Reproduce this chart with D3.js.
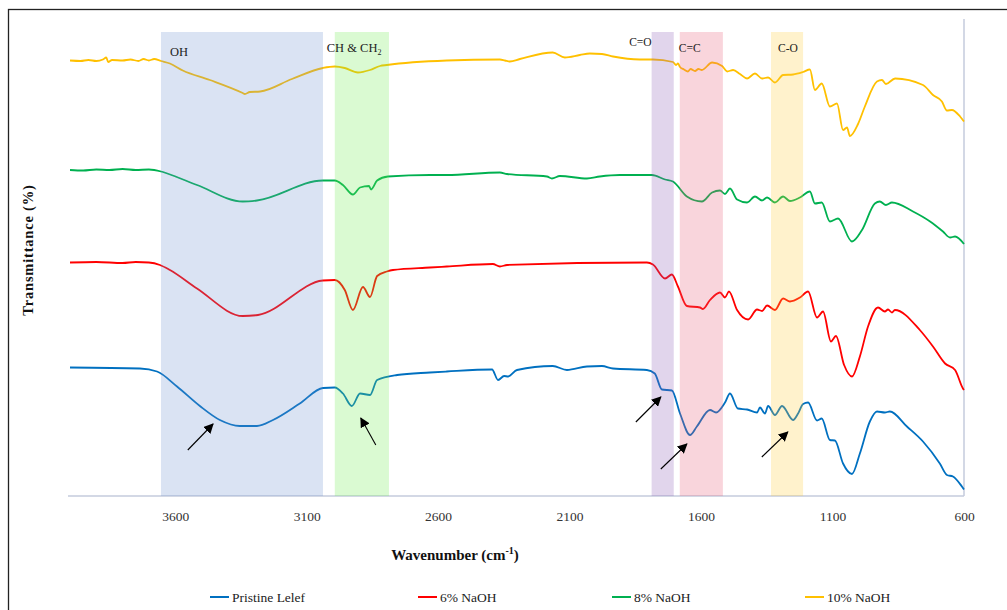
<!DOCTYPE html>
<html lang="en">
  <head>
  <meta charset="utf-8"/>
    <script type="text/javascript" src="https://cdnjs.cloudflare.com/ajax/libs/d3/7.8.5/d3.min.js"></script>
    <style>
      body { margin: 0; background: #fff; }
      text { font-family: "Liberation Serif", "Times New Roman", serif; }
    </style>
  </head>
  <body>
<svg class="fillmeup"></svg>
    <script type="text/javascript">

// spectra: [wavenumber (cm-1), transmittance as plotted (stacked)]
var pristine = [[4000,25.7],[3734,25.5],[3669,24.9],[3593,21.9],[3506,18.0],[3430,15.2],[3354,14.0],[3289,14.0],[3228,15.2],[3126,18.5],[3038,21.6],[2993,21.7],[2962,20.5],[2928,18.0],[2897,20.5],[2859,20.2],[2832,23.2],[2756,24.2],[2631,24.7],[2567,24.9],[2395,25.3],[2372,23.2],[2349,24.0],[2334,23.9],[2300,25.2],[2164,26.0],[2110,25.2],[2034,25.9],[1977,26.0],[1935,25.5],[1806,25.2],[1776,24.5],[1749,21.3],[1711,21.1],[1680,16.5],[1642,12.2],[1616,13.9],[1566,17.2],[1543,16.7],[1509,18.7],[1490,20.5],[1460,17.5],[1425,17.3],[1387,16.7],[1376,17.7],[1357,16.5],[1345,18.0],[1319,16.2],[1292,18.0],[1250,15.2],[1231,16.5],[1212,18.4],[1193,18.7],[1159,15.1],[1141,15.5],[1110,11.2],[1091,11.1],[1060,6.5],[1026,4.4],[996,8.5],[958,14.9],[931,16.9],[901,16.7],[882,16.9],[817,13.9],[756,10.9],[692,6.5],[665,4.2],[642,3.9],[608,1.9],[600,1.3]];
var naoh6 = [[4000,46.7],[3900,46.8],[3800,46.6],[3750,46.8],[3700,46.7],[3658,46.2],[3620,45.2],[3517,41.5],[3343,36.0],[3285,36.2],[3038,43.1],[2993,43.2],[2955,41.2],[2924,37.2],[2886,41.8],[2859,39.8],[2832,44.0],[2795,44.9],[2772,45.2],[2631,45.7],[2567,45.9],[2392,46.4],[2365,45.9],[2338,46.2],[1806,46.7],[1783,46.3],[1737,43.5],[1711,44.3],[1688,41.9],[1654,38.0],[1604,37.7],[1593,37.4],[1566,39.2],[1528,40.7],[1509,39.7],[1494,40.9],[1463,37.2],[1421,35.3],[1387,37.3],[1368,37.0],[1349,38.1],[1319,37.2],[1288,39.5],[1262,38.9],[1224,39.7],[1193,40.9],[1159,35.7],[1136,36.9],[1106,30.9],[1087,32.0],[1056,26.2],[1026,23.9],[996,27.9],[965,33.9],[927,37.7],[901,36.9],[889,37.3],[874,36.7],[863,37.2],[768,33.2],[718,29.9],[672,26.5],[634,25.2],[604,21.5],[600,21.2]];
var naoh8 = [[4000,65.2],[3950,65.1],[3900,65.3],[3850,65.2],[3800,65.4],[3750,65.2],[3700,65.3],[3654,64.9],[3630,64.5],[3517,62.2],[3343,58.9],[3289,59.1],[3038,63.1],[2993,63.1],[2962,62.2],[2924,60.3],[2897,61.7],[2863,62.0],[2855,61.3],[2832,63.1],[2791,63.9],[2631,64.2],[2567,64.2],[2365,64.7],[2338,64.4],[2186,63.9],[2167,63.5],[2137,64.0],[2034,63.5],[1985,63.9],[1909,64.2],[1787,64.2],[1737,63.3],[1707,62.9],[1654,59.9],[1597,58.9],[1558,60.7],[1528,61.1],[1509,60.4],[1490,61.5],[1463,59.3],[1425,58.7],[1395,59.9],[1368,59.1],[1349,59.7],[1319,58.7],[1288,59.9],[1262,59.0],[1224,59.7],[1186,60.9],[1167,58.5],[1141,58.7],[1110,54.9],[1079,55.5],[1026,50.9],[988,53.2],[939,58.5],[920,58.9],[897,58.2],[874,58.7],[794,56.9],[729,54.9],[680,52.9],[653,51.7],[634,51.9],[600,50.4]];
var naoh10 = [[4000,87.1],[3960,87.0],[3930,87.2],[3900,87.0],[3875,87.3],[3862,87.7],[3855,86.8],[3840,87.2],[3800,87.1],[3770,87.3],[3740,87.0],[3720,87.4],[3700,87.1],[3680,87.4],[3654,87.0],[3620,86.5],[3571,85.1],[3468,83.2],[3343,80.6],[3335,80.4],[3316,80.8],[3277,80.9],[3156,83.4],[3038,85.6],[2993,85.9],[2955,85.6],[2905,84.7],[2859,85.2],[2821,86.0],[2795,86.2],[2567,87.1],[2365,87.3],[2346,87.1],[2327,86.9],[2289,87.4],[2164,88.7],[2118,87.7],[2061,88.2],[2023,88.5],[1977,88.4],[1935,87.9],[1833,87.3],[1783,87.3],[1707,86.8],[1695,86.2],[1688,86.5],[1680,85.8],[1665,85.3],[1650,84.9],[1640,85.4],[1623,85.0],[1610,85.4],[1597,85.2],[1558,86.7],[1520,86.0],[1501,84.9],[1478,85.2],[1452,84.4],[1425,83.5],[1395,84.5],[1368,83.5],[1345,83.7],[1319,82.7],[1288,84.2],[1250,84.3],[1212,84.8],[1186,85.3],[1167,81.2],[1141,82.5],[1110,77.9],[1083,78.5],[1060,73.2],[1045,73.7],[1034,72.0],[1003,74.4],[977,77.9],[931,82.9],[912,83.2],[897,82.4],[862,83.5],[756,82.2],[718,80.2],[684,78.9],[665,77.1],[646,77.2],[615,75.9],[600,74.9]];

var seriesNames = ["Pristine Lelef", "6% NaOH", "8% NaOH", "10% NaOH"];
var seriesColors = ["#0070c0", "#ff0000", "#00b050", "#ffc000"];
var seriesData = [pristine, naoh6, naoh8, naoh10];

var xTicks = [3600, 3100, 2600, 2100, 1600, 1100, 600];

// functional group regions [from, to] in cm-1
var bandNames = ["OH", "CH & CH", "C=O", "C=C", "C-O"];
var bandRanges = [[3654, 3038], [2993, 2787], [1788, 1704], [1681, 1517], [1334, 1212]];
var bandColors = ["#6b8fcf", "#6beb4b", "#8757b3", "#e75773", "#ffcb33"];

// arrows [wavenumber, T] tail -> head
var arrows = [[[3552, 9.2], [3456, 14.4]], [[2837, 10.2], [2894, 15.6]], [[1848, 14.8], [1753, 19.8]], [[1753, 5.4], [1654, 10.4]], [[1369, 7.8], [1270, 12.8]]];

var width = 1007, height = 610;

var svg = d3.select('.fillmeup')
  .attr("width", width)
  .attr("height", height);

var x = d3.scaleLinear().domain([4000, 600]).range([70, 964]);
var y = d3.scaleLinear().domain([0, 95.4]).range([496, 19]);

// outer frame
svg.append("rect")
  .attr("x", 8.5).attr("y", 9.5)
  .attr("width", 1010).attr("height", 620)
  .attr("fill", "none").attr("stroke", "#222").attr("stroke-width", 1.3);

svg.append("defs").append("marker")
  .attr("id", "head")
  .attr("viewBox", "0 0 10 10")
  .attr("refX", 9).attr("refY", 5)
  .attr("markerWidth", 10).attr("markerHeight", 10)
  .attr("markerUnits", "userSpaceOnUse")
  .attr("orient", "auto")
  .append("path").attr("d", "M0,0L10,5L0,10Z").attr("fill", "#000");

// axis lines
var xAxis = d3.axisBottom(x).tickValues(xTicks).tickSize(0).tickPadding(15).tickFormat(d3.format("d"));
var gx = svg.append("g").attr("transform", "translate(0,496)").call(xAxis);
gx.select(".domain").attr("stroke", "#c5cbdc").attr("stroke-width", 1.5).attr("d", "M68,0H964");
gx.selectAll("text").attr("font-size", 13.5).attr("fill", "#333")
  .attr("font-family", "Liberation Serif, serif");

svg.append("line")
  .attr("x1", x(600)).attr("x2", x(600))
  .attr("y1", y(95.4)).attr("y2", 496)
  .attr("stroke", "#c5cbdc").attr("stroke-width", 1.5);

// spectra
var line = d3.line()
  .x(function(d) { return x(d[0]); })
  .y(function(d) { return y(d[1]); })
  .curve(d3.curveMonotoneX);

svg.selectAll("path.spec")
  .data(seriesData)
  .enter()
  .append("path")
  .attr("class", "spec")
  .attr("d", line)
  .attr("fill", "none")
  .attr("stroke", function(d, i) { return seriesColors[i]; })
  .attr("stroke-width", 1.8)
  .attr("stroke-linejoin", "round");

// shaded bands on top, translucent
svg.selectAll("rect.band")
  .data(bandRanges)
  .enter()
  .append("rect")
  .attr("class", "band")
  .attr("x", function(d) { return x(d[0]); })
  .attr("width", function(d) { return x(d[1]) - x(d[0]); })
  .attr("y", 32)
  .attr("height", 496 - 32)
  .attr("fill", function(d, i) { return bandColors[i]; })
  .attr("fill-opacity", 0.25);

// band labels
var lab = svg.append("g").attr("font-size", 12.5).attr("fill", "#222");
lab.append("text").attr("x", x(bandRanges[0][0]) + 9).attr("y", 56).text(bandNames[0]);
var ch = lab.append("text").attr("x", x(bandRanges[1][0]) - 8).attr("y", 52).text(bandNames[1]);
ch.append("tspan").attr("font-size", 8).attr("dy", 3).text("2");
lab.append("text").attr("x", x(bandRanges[2][0])).attr("y", 46).attr("text-anchor", "end")
  .attr("font-family", "Liberation Sans, sans-serif").attr("font-size", 11.5).text(bandNames[2]);
lab.append("text").attr("x", x(bandRanges[3][0]) - 1).attr("y", 52)
  .attr("font-family", "Liberation Sans, sans-serif").attr("font-size", 11.5).text(bandNames[3]);
lab.append("text").attr("x", x(bandRanges[4][0]) + 7).attr("y", 52)
  .attr("font-family", "Liberation Sans, sans-serif").attr("font-size", 11.5).text(bandNames[4]);

// arrows
svg.selectAll("line.arrow")
  .data(arrows)
  .enter()
  .append("line")
  .attr("class", "arrow")
  .attr("x1", function(d) { return x(d[0][0]); })
  .attr("y1", function(d) { return y(d[0][1]); })
  .attr("x2", function(d) { return x(d[1][0]); })
  .attr("y2", function(d) { return y(d[1][1]); })
  .attr("stroke", "#000")
  .attr("stroke-width", 1.1)
  .attr("marker-end", "url(#head)");

// axis titles
var xt = svg.append("text")
  .attr("x", 455).attr("y", 560)
  .attr("text-anchor", "middle")
  .attr("font-size", 15).attr("font-weight", "bold").attr("fill", "#111")
  .text("Wavenumber (cm");
xt.append("tspan").attr("font-size", 10).attr("dy", -6).text("-1");
xt.append("tspan").attr("dy", 6).text(")");

svg.append("text")
  .attr("transform", "translate(33,250) rotate(-90)")
  .attr("text-anchor", "middle")
  .attr("font-size", 14.5).attr("font-weight", "bold").attr("fill", "#111")
  .attr("letter-spacing", 0.8)
  .text("Transmittance (%)");

// legend
var legX = [210, 418, 612, 805];
var leg = svg.selectAll("g.leg")
  .data(seriesNames)
  .enter()
  .append("g")
  .attr("class", "leg")
  .attr("transform", function(d, i) { return "translate(" + legX[i] + ",597)"; });
leg.append("line").attr("x1", 0).attr("x2", 19).attr("y1", 0).attr("y2", 0)
  .attr("stroke", function(d, i) { return seriesColors[i]; }).attr("stroke-width", 2);
leg.append("text").attr("x", 22).attr("y", 4.5).attr("font-size", 13.5).attr("fill", "#222")
  .text(function(d) { return d; });

    </script>
  </body>
</html>
